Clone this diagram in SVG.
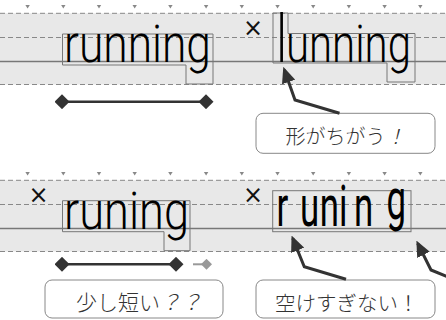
<svg xmlns="http://www.w3.org/2000/svg" xmlns:xlink="http://www.w3.org/1999/xlink" width="446" height="320" viewBox="0 0 446 320">
<style>
.band{fill:#e8e8e8;stroke:none}
.dash{stroke:#888;stroke-width:1;stroke-dasharray:5 3;fill:none}
.base{stroke:#777;stroke-width:1.3;fill:none}
.tick{fill:#888}
.box{fill:none;stroke:#777;stroke-width:1}
.word{font-family:Roboto,"DejaVu Sans",sans-serif;font-weight:300;font-size:45.5px;fill:#000}
.cross{font-family:"DejaVu Sans",sans-serif;font-size:24px;fill:#111;text-anchor:middle}
.callout{fill:#fff;stroke:#888;stroke-width:1}
.note{font-family:"Noto Sans CJK JP","Noto Sans",sans-serif;font-size:20px;font-weight:300;fill:#333}
.arrow{fill:none;stroke:#333;stroke-width:3;stroke-linejoin:miter;marker-end:url(#head)}
.span{stroke:#333;stroke-width:2.5;fill:none}
.span2{stroke:#999;stroke-width:2;fill:none}
</style>
<defs>
<marker id="head" markerUnits="userSpaceOnUse" markerWidth="16" markerHeight="14" refX="13" refY="7" orient="auto" viewBox="0 0 16 14">
<path d="M0,0 L16,7 L0,14 z" fill="#333"/>
</marker>
<marker id="dia" markerUnits="userSpaceOnUse" markerWidth="15" markerHeight="15" refX="7.5" refY="7.5" orient="auto" viewBox="0 0 15 15">
<path d="M0,7.5 L7.5,0 L15,7.5 L7.5,15 z" fill="#333"/>
</marker>
<marker id="dia2" markerUnits="userSpaceOnUse" markerWidth="11" markerHeight="11" refX="5.5" refY="5.5" orient="auto" viewBox="0 0 11 11">
<path d="M0,5.5 L5.5,0 L11,5.5 L5.5,11 z" fill="#999"/>
</marker>
<path id="tk" d="M-2.2,5 L2.2,5 L0,8.6 z"/>
<g id="guide">
<rect class="band" x="0" y="13.3" width="446" height="71.2"/>
<line class="dash" x1="0" y1="13.3" x2="446" y2="13.3"/>
<line class="dash" x1="0" y1="37.5" x2="446" y2="37.5"/>
<line class="base" x1="0" y1="61.5" x2="446" y2="61.5"/>
<line class="dash" x1="0" y1="84.5" x2="446" y2="84.5"/>
<g class="tick">
<use xlink:href="#tk" x="27.6"/><use xlink:href="#tk" x="63.3"/><use xlink:href="#tk" x="99"/>
<use xlink:href="#tk" x="134.7"/><use xlink:href="#tk" x="170.4"/><use xlink:href="#tk" x="206.1"/>
<use xlink:href="#tk" x="241.8"/><use xlink:href="#tk" x="277.5"/><use xlink:href="#tk" x="313.2"/>
<use xlink:href="#tk" x="348.9"/><use xlink:href="#tk" x="384.6"/><use xlink:href="#tk" x="420.3"/>
</g>
</g>
</defs>

<g id="guides-top"><use xlink:href="#guide"/></g>
<g id="guides-bottom"><use xlink:href="#guide" y="167"/></g>

<g id="word-running">
<polygon class="box" points="62.5,34 213,34 213,84 186,84 186,65 62.5,65"/>
<text class="word" transform="translate(0,61.5) scale(1,1.12)" x="64" y="0" textLength="147" lengthAdjust="spacingAndGlyphs">running</text>
</g>

<g id="word-lunning">
<text class="cross" x="253" y="35.5">×</text>
<polygon class="box" points="273,13 288,13 288,33.5 415,33.5 415,82 387,82 387,63 273,63"/>
<text class="word" transform="translate(276.5,61.5) scale(1,1.46)" x="0" y="0">l</text>
<text class="word" transform="translate(0,61.5) scale(1,1.12)" x="286" y="0" textLength="125" lengthAdjust="spacingAndGlyphs">unning</text>
</g>

<g id="word-runing">
<text class="cross" x="38.5" y="202.5">×</text>
<polygon class="box" points="62.5,200.7 190,200.7 190,250.7 164,250.7 164,231.7 62.5,231.7"/>
<text class="word" transform="translate(0,228.5) scale(1,1.12)" x="64" y="0" textLength="125" lengthAdjust="spacingAndGlyphs">runing</text>
</g>

<g id="word-runing-spaced">
<text class="cross" x="253" y="202.5">×</text>
<rect class="box" x="272.7" y="190.7" width="138.3" height="41"/>
<text class="word" transform="translate(0,226) scale(0.6,1)" style="font-size:58px;font-weight:400" y="0"><tspan x="461">r</tspan><tspan x="500">u</tspan><tspan x="533">n</tspan><tspan x="565">i</tspan><tspan x="590">n</tspan><tspan x="644" dy="-7">g</tspan></text>
</g>

<g id="measure-full">
<line class="span" x1="62" y1="101.7" x2="206" y2="101.7" marker-start="url(#dia)" marker-end="url(#dia)"/>
</g>

<g id="measure-short">
<line class="span2" x1="193" y1="264.3" x2="206.5" y2="264.3" marker-end="url(#dia2)"/>
<line class="span" x1="62" y1="264.3" x2="176" y2="264.3" marker-start="url(#dia)" marker-end="url(#dia)"/>
</g>

<g id="note-shape">
<rect class="callout" x="256" y="113.3" width="179" height="40" rx="7"/>
<text class="note" x="285.5" y="144">形がちがう<tspan font-style="italic">！</tspan></text>
</g>

<g id="note-short">
<rect class="callout" x="45" y="280" width="178" height="38" rx="7"/>
<text class="note" x="76" y="310" style="font-size:21px">少し短い<tspan font-style="italic">？？</tspan></text>
</g>

<g id="note-space">
<rect class="callout" x="256" y="280" width="179" height="38" rx="7"/>
<text class="note" x="275" y="310.5" style="font-size:20.5px">空けすぎない！</text>
</g>

<g id="connectors">
<path class="arrow" d="M339.5,113.3 L295,100 L284.3,69.7"/>
<path class="arrow" d="M346,279.3 L304.3,266.7 L292.7,238.3"/>
<path class="arrow" d="M452,278.5 L431,270 L417.7,243.3"/>
</g>
</svg>
